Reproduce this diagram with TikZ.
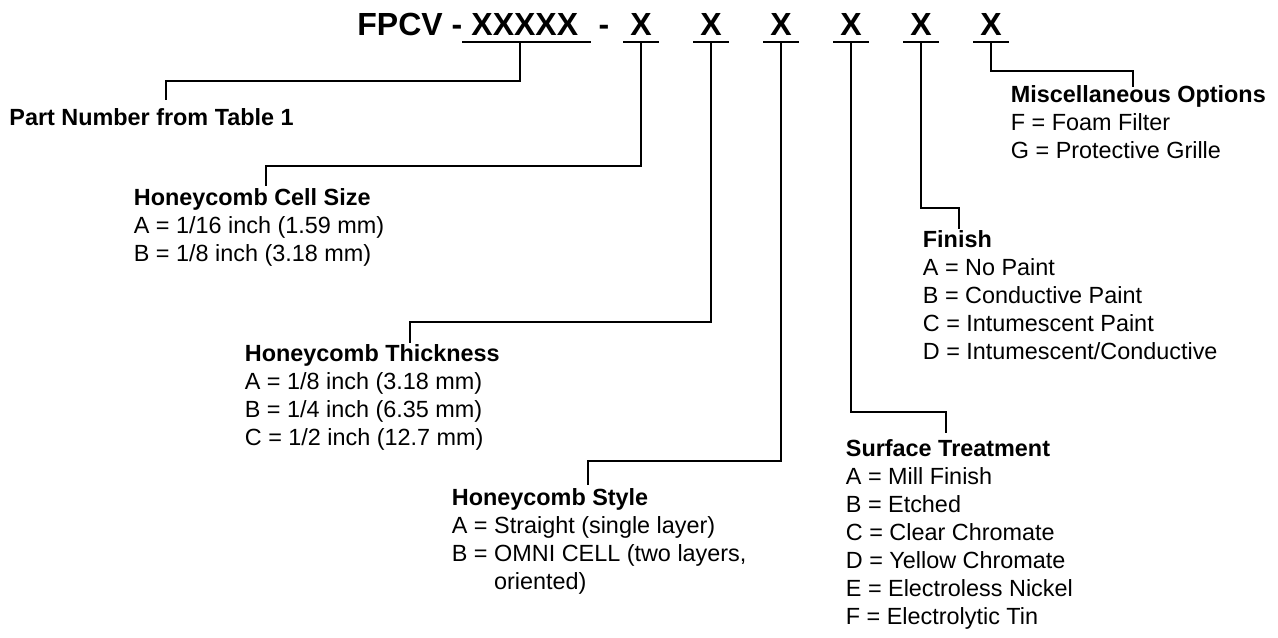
\documentclass[tikz,border=0pt]{standalone}
\usepackage{fontspec}
\setmainfont{Liberation Sans}
\begin{document}
\begin{tikzpicture}[x=0.5pt,y=-0.5pt,
	lead/.style={line width=1pt},
	code/.style={font=\fontsize{16}{19}\selectfont\bfseries,inner sep=0pt},
	key/.style={font=\fontsize{11.7}{14}\selectfont,align=left,inner sep=0pt,anchor=north west,execute at begin node=\strut}]
	\useasboundingbox (0,0) rectangle (1278,637);
	%%%%%%%% part code
	\node[code,anchor=base west] (fpcv) at (357,35) {FPCV -};
	\node[code,anchor=base west] (part) at (471,35) {XXXXX};
	\node[code,anchor=base] (dash) at (604,35) {-};
	\draw[lead] (462,42) -- (591,42);
	\coordinate (u0) at (520,42);
	\foreach \n/\x in {1/641,2/711,3/781,4/851,5/921,6/991}{
		\node[code,anchor=base] (x\n) at (\x,35) {X};
		\draw[lead] (\x-18,42) -- (\x+18,42);
		\coordinate (u\n) at (\x,42);
	}
	%%%%%%%% keys
	\node[key] (pnum) at (9,105.4) {\textbf{Part Number from Table 1}};
	\node[key] (cell) at (133.5,188.4) {\textbf{Honeycomb Cell Size}\\
		A = 1/16 inch (1.59 mm)\\
		B = 1/8 inch (3.18 mm)};
	\node[key] (thick) at (244.5,344.4) {\textbf{Honeycomb Thickness}\\
		A = 1/8 inch (3.18 mm)\\
		B = 1/4 inch (6.35 mm)\\
		C = 1/2 inch (12.7 mm)};
	\node[key] (style) at (451.5,488.4) {\textbf{Honeycomb Style}\\
		A = Straight (single layer)\\
		B = OMNI CELL (two layers,\\
		\hphantom{B = }oriented)};
	\node[key] (surf) at (845.5,439.4) {\textbf{Surface Treatment}\\
		A = Mill Finish\\
		B = Etched\\
		C = Clear Chromate\\
		D = Yellow Chromate\\
		E = Electroless Nickel\\
		F = Electrolytic Tin};
	\node[key] (fin) at (922.5,230.4) {\textbf{Finish}\\
		A = No Paint\\
		B = Conductive Paint\\
		C = Intumescent Paint\\
		D = Intumescent/Conductive};
	\node[key] (misc) at (1010.5,85.4) {\textbf{Miscellaneous Options}\\
		F = Foam Filter\\
		G = Protective Grille};
	%%%%%%%% leads
	\coordinate (e0) at (166,100);
	\coordinate (e1) at (266,186);
	\coordinate (e2) at (410,343);
	\coordinate (e3) at (588,485);
	\coordinate (e4) at (946,433);
	\coordinate (e5) at (959,229);
	\coordinate (e6) at (1133,87);
	\foreach \n/\y in {0/81,1/166,2/322,3/461,4/412,5/208,6/71}
		\draw[lead] (u\n) -- (u\n |- 0,\y) -| (e\n);
\end{tikzpicture}
\end{document}
